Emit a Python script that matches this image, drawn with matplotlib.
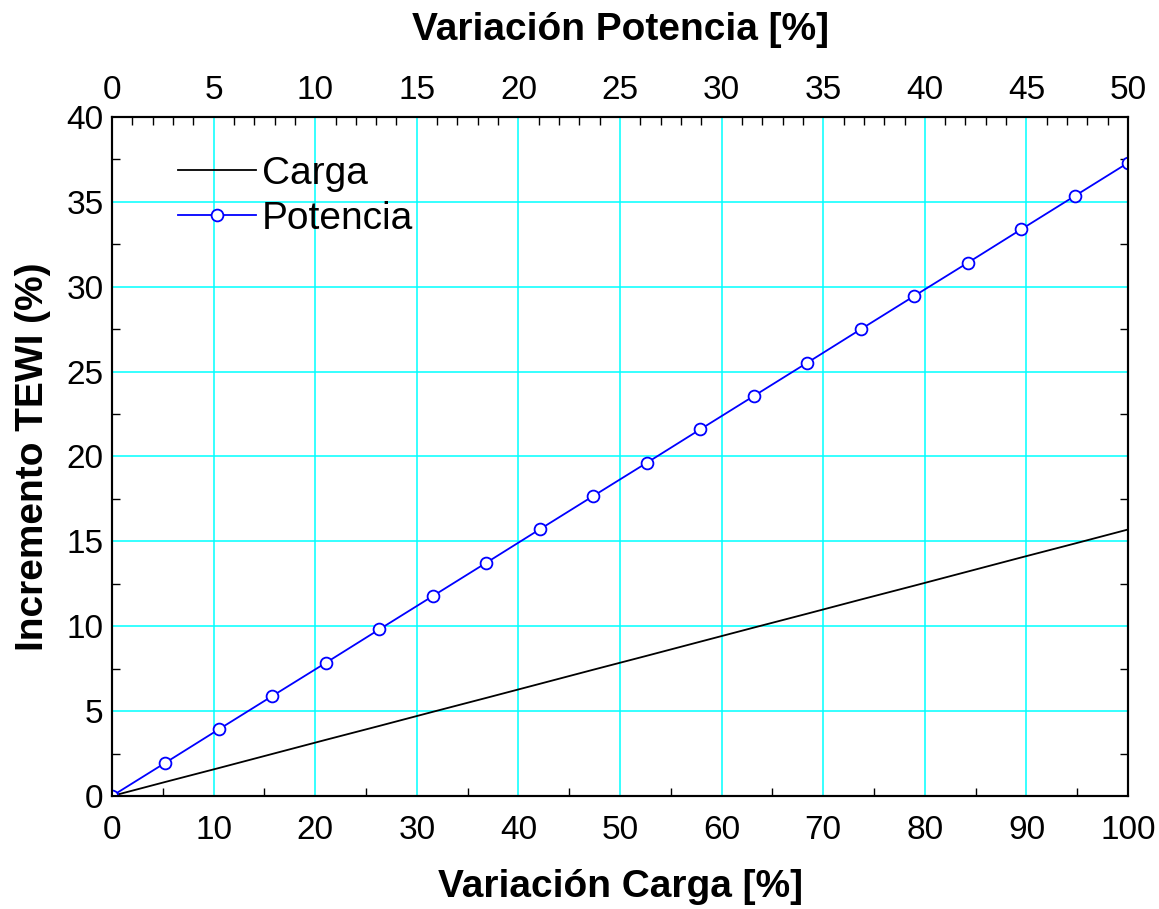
import numpy as np
import matplotlib.pyplot as plt
from matplotlib.ticker import MultipleLocator

plt.rcParams['font.family'] = ['Liberation Sans', 'DejaVu Sans']

# datos
carga_x = [0, 5.26, 10.53, 15.79, 21.05, 26.32, 31.58, 36.84, 42.11, 47.37,
           52.63, 57.89, 63.16, 68.42, 73.68, 78.95, 84.21, 89.47, 94.74, 100]
carga_y = [0, 0.83, 1.65, 2.48, 3.31, 4.13, 4.96, 5.78, 6.61, 7.44,
           8.26, 9.09, 9.92, 10.74, 11.57, 12.39, 13.22, 14.05, 14.87, 15.7]

potencia_x = [0, 2.63, 5.26, 7.89, 10.53, 13.16, 15.79, 18.42, 21.05, 23.68,
              26.32, 28.95, 31.58, 34.21, 36.84, 39.47, 42.11, 44.74, 47.37, 50]
potencia_y = [0, 1.96, 3.93, 5.89, 7.85, 9.82, 11.78, 13.74, 15.71, 17.67,
              19.63, 21.6, 23.56, 25.52, 27.49, 29.45, 31.41, 33.38, 35.34, 37.3]

fig = plt.figure(figsize=(11.59, 9.09), dpi=100)
ax = fig.add_axes([0.0966, 0.1243, 0.8767, 0.747])
ax2 = ax.twiny()

ax.set_xlim(0, 100)
ax.set_ylim(0, 40)
ax2.set_xlim(0, 50)

ax.grid(True, which='major', color='#00FFFF', linewidth=1.1)
ax.set_axisbelow(True)

l1, = ax.plot(carga_x, carga_y, color='black', linewidth=1.3, label='Carga')
l2, = ax2.plot(potencia_x, potencia_y, color='#0000FF', linewidth=1.3,
               marker='o', markersize=8.5, markerfacecolor='white',
               markeredgecolor='#0000FF', markeredgewidth=1.3, label='Potencia')

ax.xaxis.set_major_locator(MultipleLocator(10))
ax.xaxis.set_minor_locator(MultipleLocator(5))
ax.yaxis.set_major_locator(MultipleLocator(5))
ax.yaxis.set_minor_locator(MultipleLocator(2.5))
ax2.xaxis.set_major_locator(MultipleLocator(5))
ax2.xaxis.set_minor_locator(MultipleLocator(1))

ax.tick_params(axis='both', which='major', direction='in', length=0,
               labelsize=24, right=True)
ax.tick_params(axis='x', which='major', pad=14)
ax.tick_params(axis='y', which='major', pad=6)
ax.tick_params(axis='both', which='minor', direction='in', length=6,
               width=1, right=True)
ax2.tick_params(axis='x', which='major', direction='in', length=0,
                labelsize=24, pad=8)
ax2.tick_params(axis='x', which='minor', direction='in', length=6, width=1)

for a in (ax, ax2):
    for s in a.spines.values():
        s.set_linewidth(1.5)

ax.set_xlabel('Variación Carga [%]', fontsize=28, fontweight='bold', labelpad=16)
ax.set_ylabel('Incremento TEWI (%)', fontsize=28, fontweight='bold', labelpad=11)
ax2.set_xlabel('Variación Potencia [%]', fontsize=28, fontweight='bold', labelpad=25)

leg = ax.legend(handles=[l1, l2], loc='upper left', bbox_to_anchor=(0.05, 0.966),
                frameon=False, fontsize=28, handlelength=2.0, handletextpad=0.15,
                labelspacing=0.23, borderaxespad=0)

fig.savefig('out.png', dpi=100)
